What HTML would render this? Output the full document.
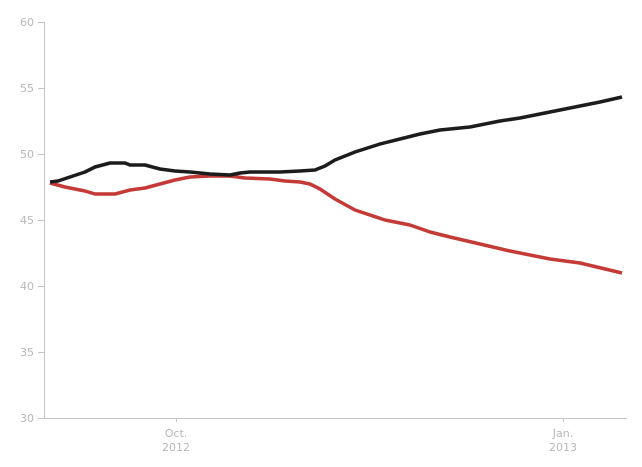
<!DOCTYPE html>
<html><head><meta charset="utf-8"><style>
html,body{margin:0;padding:0;background:#fff;}
svg text{font-family:"DejaVu Sans","Liberation Sans",sans-serif;font-size:11px;fill:#b8b8b8;}
</style></head><body>
<svg width="642" height="462" xmlns="http://www.w3.org/2000/svg">
<g stroke="#c4c4c4" stroke-width="1">
<line x1="44.5" y1="22" x2="44.5" y2="418"/>
<line x1="44" y1="418.5" x2="627" y2="418.5"/>
<line x1="38" y1="22.5" x2="44" y2="22.5"/>
<line x1="38" y1="88.5" x2="44" y2="88.5"/>
<line x1="38" y1="154.5" x2="44" y2="154.5"/>
<line x1="38" y1="220.5" x2="44" y2="220.5"/>
<line x1="38" y1="286.5" x2="44" y2="286.5"/>
<line x1="38" y1="352.5" x2="44" y2="352.5"/>
<line x1="38" y1="418.5" x2="44" y2="418.5"/>
<line x1="176.5" y1="418" x2="176.5" y2="422"/>
<line x1="563.5" y1="418" x2="563.5" y2="422"/>
</g>
<g text-anchor="end">
<text x="34" y="26">60</text><text x="34" y="92">55</text><text x="34" y="158">50</text>
<text x="34" y="224">45</text><text x="34" y="290">40</text><text x="34" y="356">35</text><text x="34" y="422">30</text>
</g>
<g text-anchor="middle">
<text x="176" y="437">Oct.</text><text x="176" y="451">2012</text>
<text x="563" y="437">Jan.</text><text x="563" y="451">2013</text>
</g>
<polyline fill="none" stroke="#c43a36" stroke-width="3.5" stroke-linejoin="round" points="50,183 65,187 85,191 95,194 115,194 130,190 145,188 160,184 175,180 190,177 210,176 230,176 245,178 270,179 285,181 300,182 310,184 320,189 335,199 355,210 385,220 410,225 430,232 450,237 480,244 510,251 550,259 580,263 622,273"/>
<polyline fill="none" stroke="#1c1c1c" stroke-width="3.5" stroke-linejoin="round" points="50,182 58,181 70,177 85,172 95,167 110,163 125,163 130,165 145,165 160,169 175,171 190,172 210,174 230,175 240,173 250,172 280,172 300,171 315,170 325,166 335,160 355,152 380,144 400,139 420,134 440,130 470,127 500,121 520,118 560,110 600,102 622,97"/>
</svg>
</body></html>
